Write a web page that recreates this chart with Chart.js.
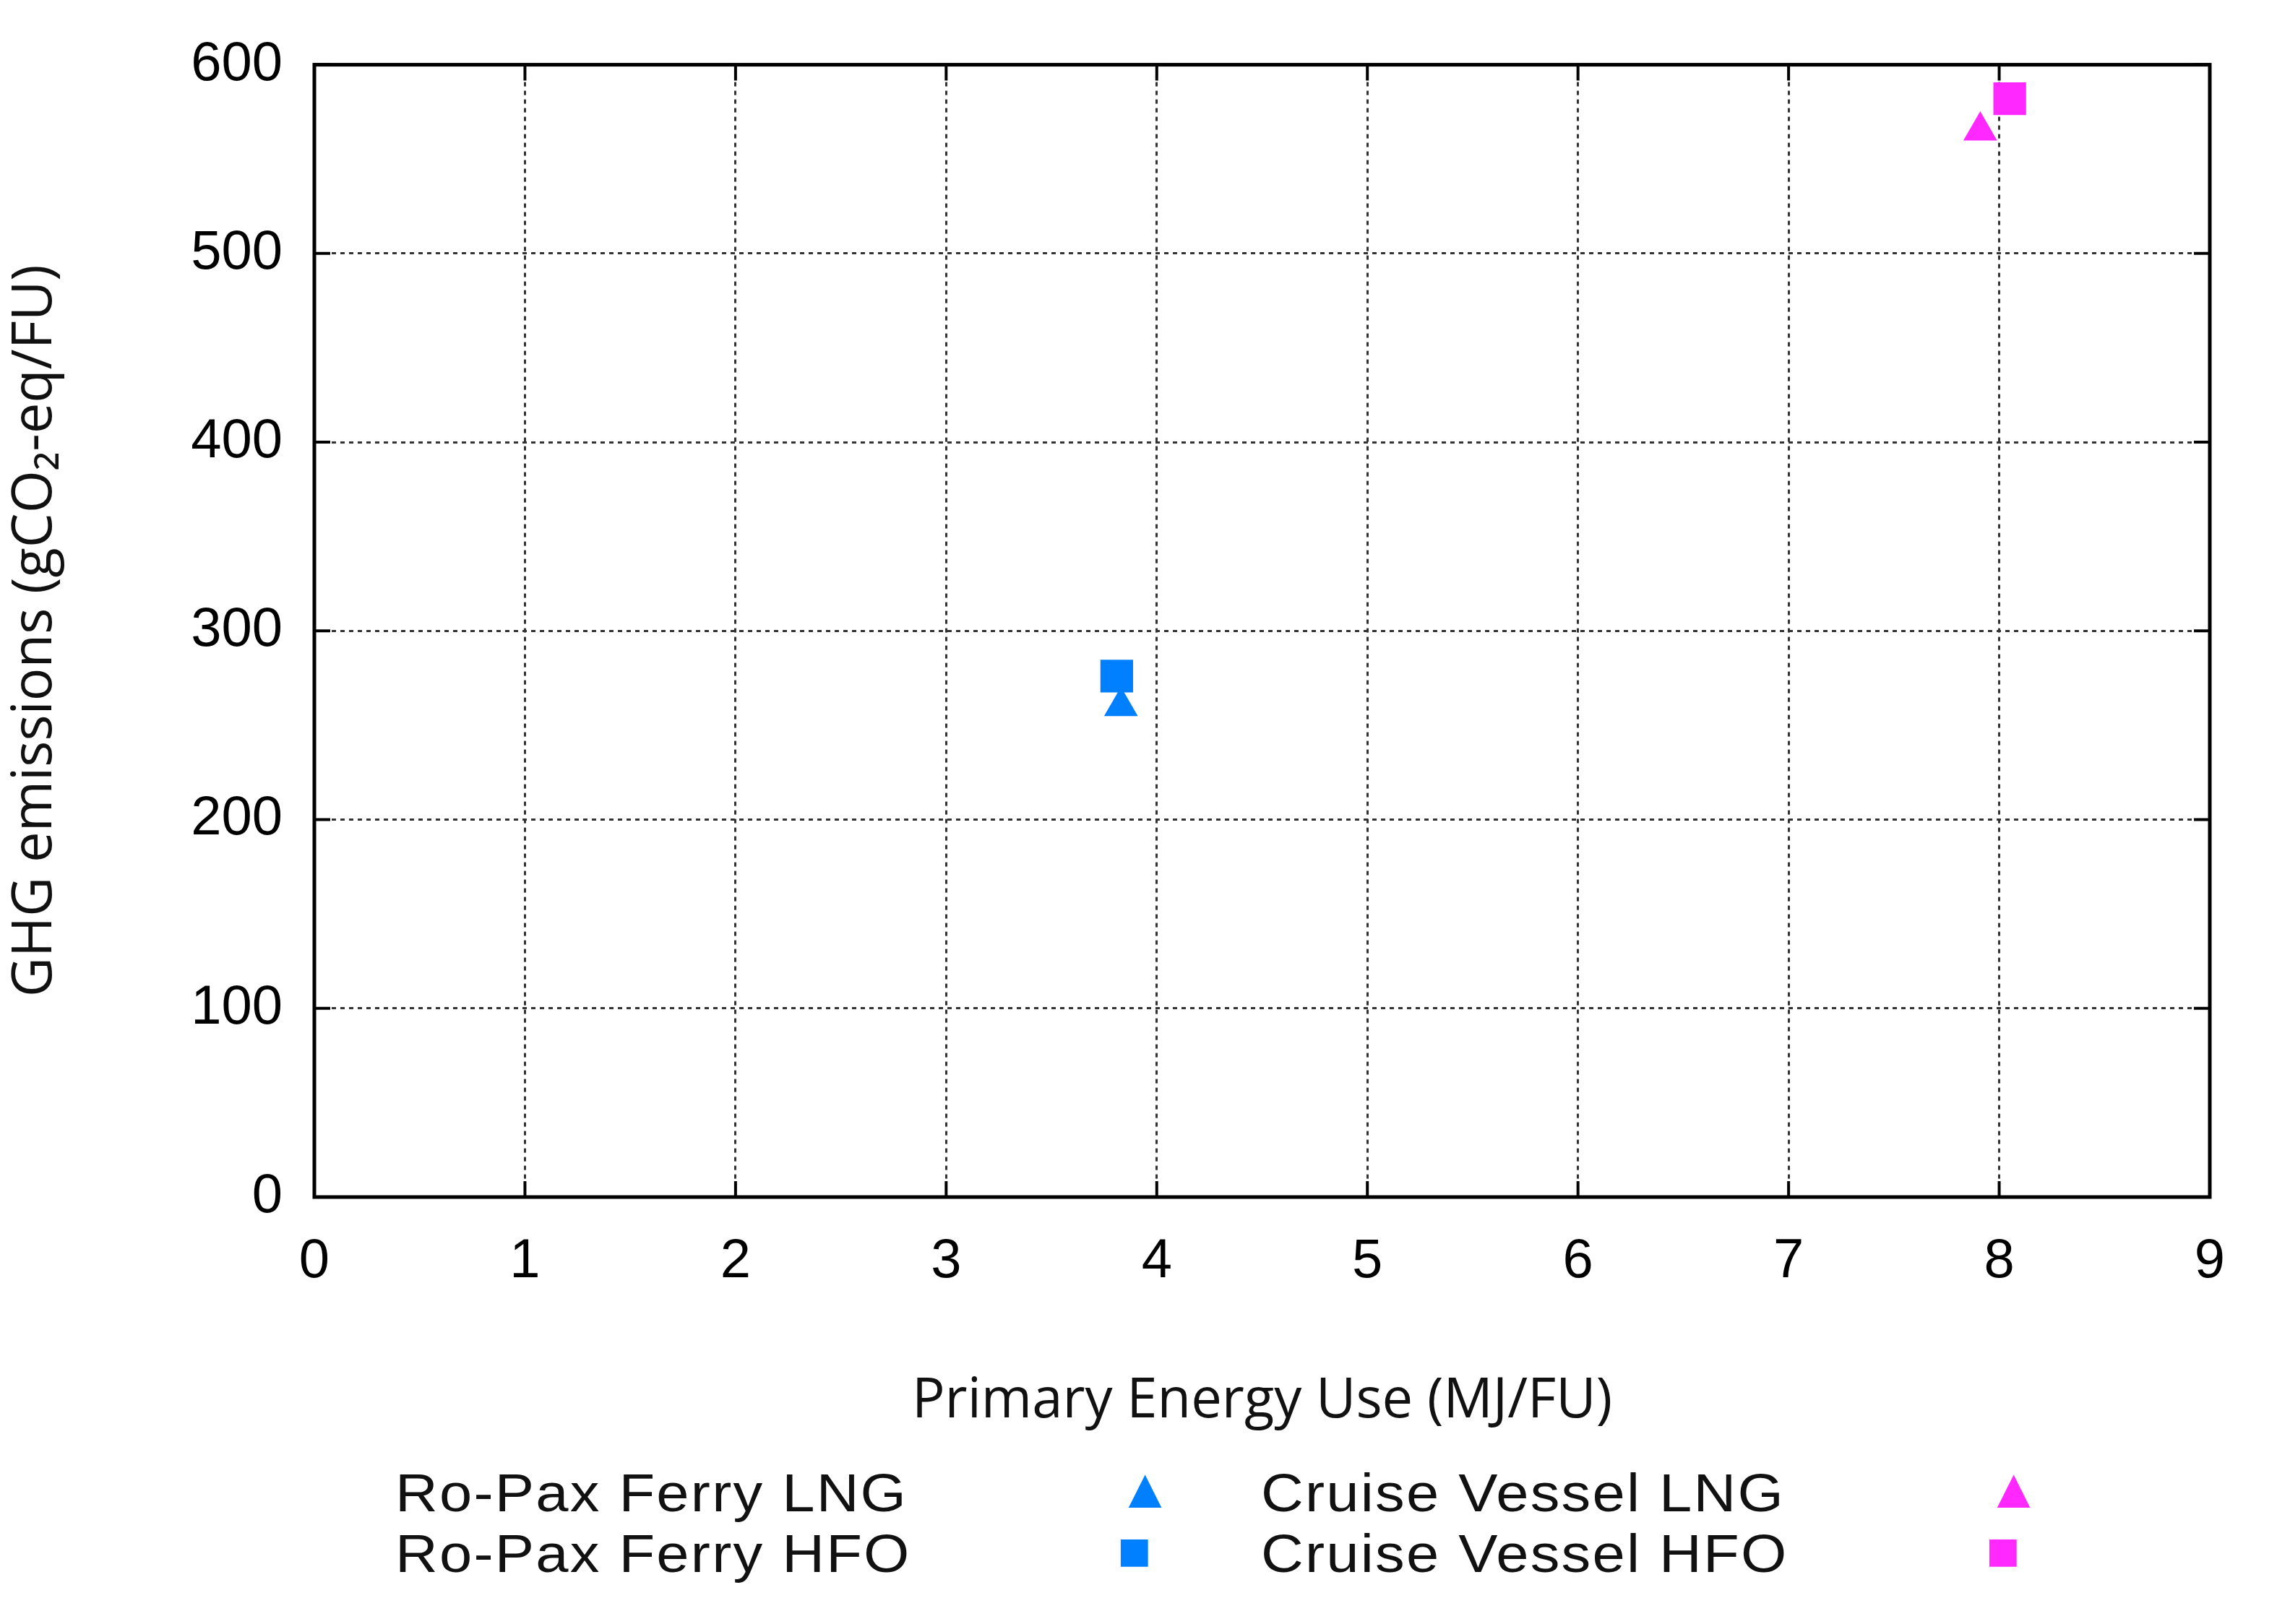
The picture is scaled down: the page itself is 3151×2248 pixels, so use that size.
<!DOCTYPE html>
<html><head><meta charset="utf-8">
<script src="https://cdn.jsdelivr.net/npm/chart.js@4"></script>
<style>
body{margin:0;background:#fff;width:3151px;height:2248px;position:relative;overflow:hidden}
#wrap{position:absolute;left:0;top:0;width:3151px;height:1990px}
.lg{position:absolute;font-family:"Liberation Sans",Arial,sans-serif;font-size:74px;letter-spacing:2px;color:#111;line-height:1;transform:scaleX(1.1);transform-origin:left}
.mk{position:absolute;font-size:78px;line-height:1}
</style></head><body>
<div id="wrap"><canvas id="c" width="3151" height="1990"></canvas></div>
<div class="lg" style="left:547px;top:2030px">Ro-Pax Ferry LNG</div>
<div class="lg" style="left:547px;top:2114px">Ro-Pax Ferry HFO</div>
<div class="lg" style="left:1745px;top:2030px">Cruise Vessel LNG</div>
<div class="lg" style="left:1745px;top:2114px">Cruise Vessel HFO</div>
<div class="mk" style="left:1546px;top:2022px;color:#0080ff">▲</div>
<div class="mk" style="left:1546px;top:2108px;color:#0080ff">■</div>
<div class="mk" style="left:2748px;top:2022px;color:#ff29ff">▲</div>
<div class="mk" style="left:2748px;top:2108px;color:#ff29ff">■</div>
<script>
const seriesNames=["Ro-Pax Ferry LNG","Ro-Pax Ferry HFO","Cruise Vessel LNG","Cruise Vessel HFO"];
const energyUse=[3.83,3.81,7.91,8.05];
const ghg=[260,276,565,582];
const styles=["triangle","rect","triangle","rect"];
const colors=["#0080ff","#0080ff","#ff29ff","#ff29ff"];
const xTicks=[0,1,2,3,4,5,6,7,8,9];
const yTicks=[0,100,200,300,400,500,600];
const datasets=seriesNames.map((n,i)=>({label:n,data:[{x:energyUse[i],y:ghg[i]}],pointStyle:styles[i],
  pointRadius:styles[i]==="rect"?32:27,backgroundColor:colors[i],borderColor:colors[i],borderWidth:0}));
const tickFont={family:"Liberation Sans",size:76};
const frame={id:'frame',afterDraw(c){const a=c.chartArea,x=c.ctx;x.save();x.strokeStyle='#000';x.lineWidth=5;
 x.strokeRect(a.left,a.top,a.right-a.left,a.bottom-a.top);
 x.lineWidth=4;const xs=c.scales.x,ys=c.scales.y;
 xTicks.forEach(v=>{const p=xs.getPixelForValue(v);x.beginPath();x.moveTo(p,a.bottom);x.lineTo(p,a.bottom-22);x.moveTo(p,a.top);x.lineTo(p,a.top+22);x.stroke();});
 yTicks.forEach(v=>{const p=ys.getPixelForValue(v);x.beginPath();x.moveTo(a.left,p);x.lineTo(a.left+22,p);x.moveTo(a.right,p);x.lineTo(a.right-22,p);x.stroke();});
 x.restore();}};
new Chart(document.getElementById('c'),{type:'scatter',data:{datasets},
 options:{responsive:false,animation:false,layout:{padding:{top:88,right:93,left:0,bottom:0}},
 plugins:{legend:{display:false},tooltip:{enabled:false}},
 scales:{
  x:{type:'linear',min:0,max:9,afterBuildTicks:s=>{s.ticks=xTicks.map(v=>({value:v}))},
   afterFit:s=>{s.height=333},
   grid:{color:'#333',lineWidth:3,drawTicks:false},border:{display:false,dash:[6,6]},
   ticks:{font:tickFont,color:'#000',padding:44},
   title:{display:true,text:'Primary Energy Use (MJ/FU)',font:{family:'Open Sans',size:76},color:'#111',padding:{top:20}}},
  y:{type:'linear',min:0,max:600,afterBuildTicks:s=>{s.ticks=yTicks.map(v=>({value:v}))},
   afterFit:s=>{s.width=435},
   grid:{color:'#333',lineWidth:3,drawTicks:false},border:{display:false,dash:[6,6]},
   ticks:{font:tickFont,color:'#000',padding:44},
   title:{display:true,text:'GHG emissions (gCO₂-eq/FU)',font:{family:'Open Sans',size:76},color:'#111',padding:{bottom:10}}}
 }},plugins:[frame]});
</script></body></html>
